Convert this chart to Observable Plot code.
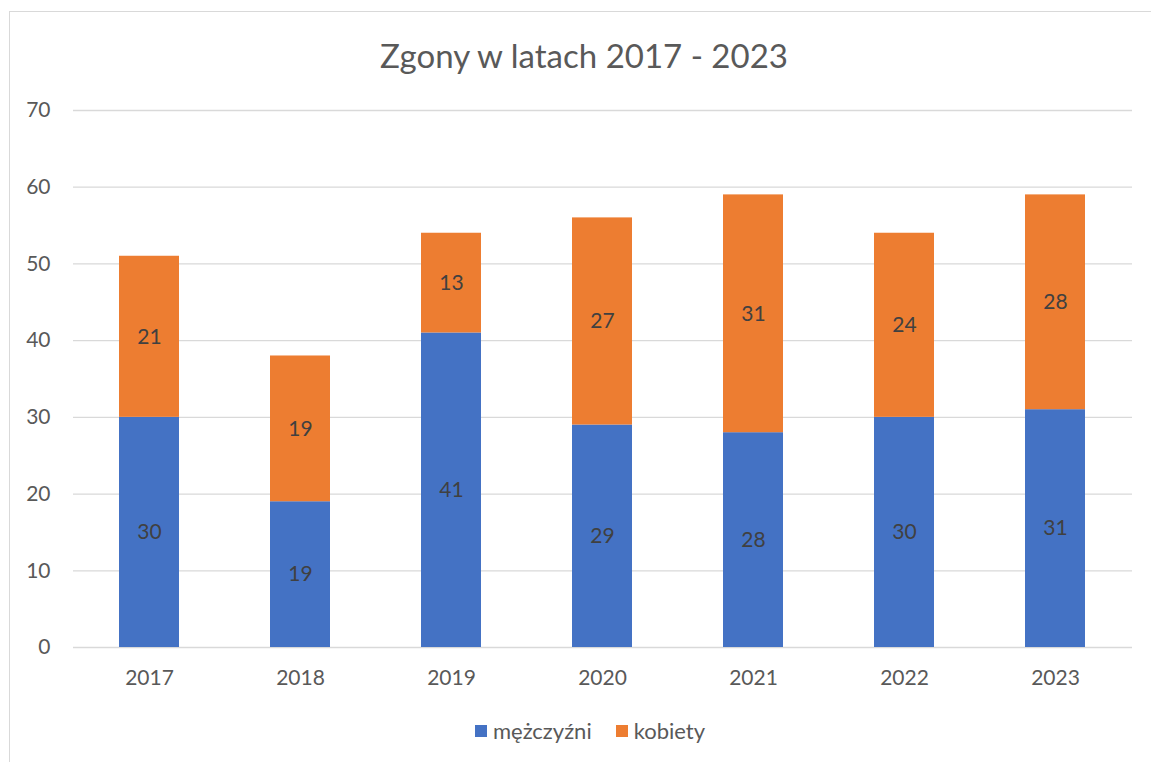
<!DOCTYPE html>
<html>
<head>
<meta charset="utf-8">
<script src="https://cdn.jsdelivr.net/npm/d3@7"></script>
<script src="https://cdn.jsdelivr.net/npm/@observablehq/plot@0.6"></script>
<style>
  body { margin: 0; background: #fff; font-family: Lato, "Open Sans", sans-serif; }
  #wrap { position: relative; width: 1151px; height: 762px; overflow: hidden; }
  #frame { position: absolute; left: 9px; top: 11px; width: 1160px; height: 800px; border-left: 1px solid #d9d9d9; border-top: 1px solid #d9d9d9; box-sizing: border-box; }
  #title { position: absolute; left: 0; top: 35px; width: 1168px; text-align: center; font-size: 33px; color: #595959; line-height: 40px; }
  #chart { position: absolute; left: 0; top: 80px; }
  #legend { position: absolute; top: 717px; left: 0; width: 1180px; display: flex; justify-content: center; gap: 24px; font-size: 22px; color: #595959; line-height: 28px; }
  .li { display: flex; align-items: center; gap: 6px; }
  .sw { width: 12px; height: 12px; display: inline-block; }
</style>
</head>
<body>
<div id="wrap">
  <div id="frame"></div>
  <div id="title">Zgony w latach 2017 - 2023</div>
  <div id="chart"></div>
  <div id="legend"></div>
</div>
<script>
const years = ["2017", "2018", "2019", "2020", "2021", "2022", "2023"];
const series = ["mężczyźni", "kobiety"];
const men = [30, 19, 41, 29, 28, 30, 31];
const women = [21, 19, 13, 27, 31, 24, 28];
const yTicks = [0, 10, 20, 30, 40, 50, 60, 70];
const colors = ["#4472C4", "#ED7D31"];

const data = [];
years.forEach((y, i) => {
  data.push({year: y, series: series[0], value: men[i]});
  data.push({year: y, series: series[1], value: women[i]});
});

const plot = Plot.plot({
  width: 1151,
  height: 620,
  marginTop: 30,
  marginBottom: 53,
  marginLeft: 73,
  marginRight: 19,
  style: {fontFamily: "Lato, 'Open Sans', sans-serif", fontSize: "21px", color: "#595959", background: "transparent"},
  x: {domain: years, paddingInner: 0.6, paddingOuter: 0.3, label: null, tickSize: 0, tickPadding: 23},
  y: {domain: [0, 70], ticks: yTicks, label: null, tickSize: 0, tickPadding: 23},
  color: {domain: series, range: colors},
  marks: [
    Plot.gridY(yTicks, {stroke: "#d9d9d9", strokeOpacity: 1, strokeWidth: 1.3}),
    Plot.barY(data, Plot.stackY({x: "year", y: "value", fill: "series", order: null})),
    Plot.text(data, Plot.stackY({x: "year", y: "value", text: d => String(d.value), order: null, fill: "#404040", fontSize: 21}))
  ]
});
document.getElementById("chart").appendChild(plot);

const leg = document.getElementById("legend");
series.forEach((s, i) => {
  const el = document.createElement("div");
  el.className = "li";
  el.innerHTML = `<span class="sw" style="background:${colors[i]}"></span><span>${s}</span>`;
  leg.appendChild(el);
});
</script>
</body>
</html>
